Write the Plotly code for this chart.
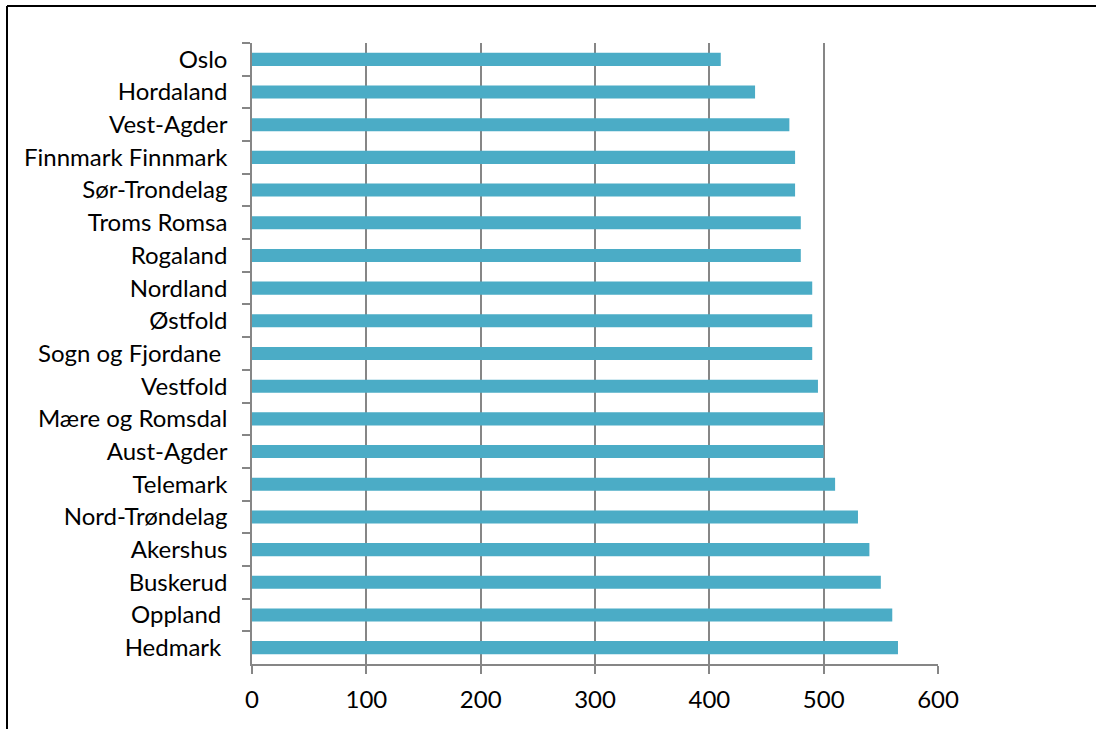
import plotly.graph_objects as go

# Counties, listed top to bottom
counties = [
    "Oslo", "Hordaland", "Vest-Agder", "Finnmark Finnmark", "Sør-Trondelag",
    "Troms Romsa", "Rogaland", "Nordland", "Østfold", "Sogn og Fjordane ",
    "Vestfold", "Mære og Romsdal", "Aust-Agder", "Telemark", "Nord-Trøndelag",
    "Akershus", "Buskerud", "Oppland ", "Hedmark ",
]
values = [410, 440, 470, 475, 475, 480, 480, 490, 490, 490,
          495, 500, 500, 510, 530, 540, 550, 560, 565]
x_ticks = [0, 100, 200, 300, 400, 500, 600]

BAR = "#4BACC6"
AXIS = "#868686"
FONT = dict(family="Lato, Open Sans, sans-serif", size=24, color="#000000")

fig = go.Figure(
    go.Bar(
        y=counties,
        x=values,
        orientation="h",
        marker=dict(color=BAR, line=dict(width=0)),
        width=0.4,
    )
)

# plot area spans x 252..938 px and y 43..664 px
L, R, T, B = 252, 938, 43, 664
W, H = 1096, 729

def px_x(p):
    return (p - L) / (R - L)

def px_y(p):
    return (B - p) / (B - T)

fig.update_layout(
    width=W,
    height=H,
    margin=dict(l=L, r=W - R, t=T, b=H - B, pad=0),
    paper_bgcolor="white",
    plot_bgcolor="white",
    showlegend=False,
    font=FONT,
    xaxis=dict(
        range=[0, 600],
        tickvals=x_ticks,
        ticktext=[str(v) for v in x_ticks],
        showgrid=True,
        gridcolor=AXIS,
        gridwidth=1.5,
        zeroline=False,
        showline=True,
        linecolor=AXIS,
        linewidth=1.5,
        ticks="outside",
        ticklen=8,
        tickwidth=1.5,
        tickcolor=AXIS,
        tickfont=FONT,
        ticklabelstandoff=5,
    ),
    yaxis=dict(
        categoryorder="array",
        categoryarray=counties,
        autorange="reversed",
        showgrid=False,
        showline=True,
        linecolor=AXIS,
        linewidth=1.5,
        ticks="outside",
        tickson="boundaries",
        ticklen=8,
        tickwidth=1.5,
        tickcolor=AXIS,
        tickfont=FONT,
        ticklabelstandoff=18,
    ),
    shapes=[
        dict(type="line", xref="paper", yref="paper",
             x0=px_x(7), x1=px_x(1096), y0=px_y(6), y1=px_y(6),
             line=dict(color="black", width=2)),
        dict(type="line", xref="paper", yref="paper",
             x0=px_x(7), x1=px_x(7), y0=px_y(6), y1=px_y(729),
             line=dict(color="black", width=2)),
    ],
)

fig.write_html("out.html")
